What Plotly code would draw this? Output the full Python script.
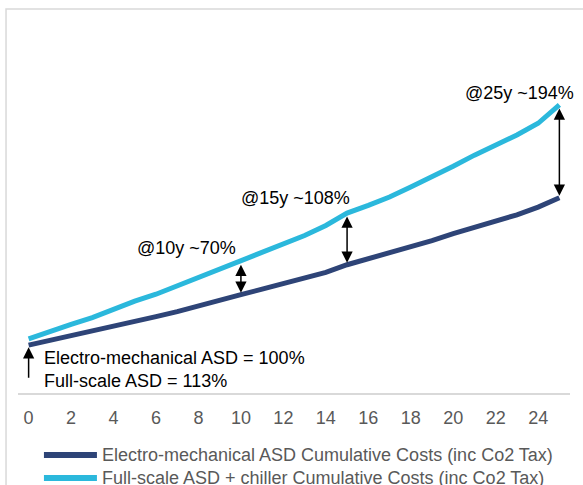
import plotly.graph_objects as go

# Years of operation
years = list(range(0, 26))

# Cumulative costs relative to the electro-mechanical ASD at year 0 (=100%)
electro_mech = [100, 109.8, 118.9, 128, 139.5, 150, 159.5, 170, 181, 193,
                205.5, 217, 228.5, 240, 252, 268, 280, 292, 306, 318.5,
                333, 346, 359, 372.4, 388.5, 408]
full_scale = [113, 129.4, 143.4, 157.4, 175, 192, 206.4, 224, 241.5, 258.5,
              275.5, 294, 311.5, 329, 350, 376, 392, 409.5, 430.5, 451.5,
              474, 497, 518, 539, 563.6, 602]

series_names = ["Electro-mechanical ASD Cumulative Costs (inc Co2 Tax)",
                "Full-scale ASD + chiller Cumulative Costs (inc Co2 Tax)"]
series_colors = ["#2E4477", "#2BB8DC"]

# Years at which the cost gap is called out
gap_years = [10, 15, 25]
x_ticks = list(range(0, 25, 2))

FONT = "Arial, Liberation Sans, sans-serif"

fig = go.Figure()
for name, vals, col in zip(series_names, [electro_mech, full_scale], series_colors):
    fig.add_trace(go.Scatter(x=years, y=vals, mode="lines", name=name,
                             line=dict(color=col, width=5), showlegend=False))

annotations = []
# Double-headed arrows and gap labels
for gy in gap_years:
    i = years.index(gy)
    lo, hi = electro_mech[i], full_scale[i]
    annotations.append(dict(x=gy, y=lo, ax=gy, ay=hi, xref="x", yref="y",
                            axref="x", ayref="y", text="", showarrow=True,
                            arrowhead=2, startarrowhead=2, arrowside="end+start",
                            arrowsize=1.5, startarrowsize=1.5, arrowwidth=1.5,
                            arrowcolor="black", standoff=2, startstandoff=2))
shifts = {10: (-3, 1), 15: (5, 3), 25: (17, 0)}
for gy in gap_years:
    i = years.index(gy)
    gap = full_scale[i] - electro_mech[i]
    xs, ys = shifts[gy]
    annotations.append(dict(x=gy, y=full_scale[i], xref="x", yref="y",
                            text=f"@{gy}y ~{gap:.0f}%", showarrow=False,
                            xanchor="right", yanchor="bottom", xshift=xs, yshift=ys,
                            font=dict(family=FONT, size=18, color="black")))

# Starting point arrow and labels
annotations.append(dict(x=0, y=electro_mech[0], xref="x", yref="y", ax=0, ay=34,
                        text="", showarrow=True, arrowhead=2, arrowsize=1.5,
                        arrowwidth=1.5, arrowcolor="black", standoff=2))
annotations.append(dict(x=0, y=electro_mech[0], xref="x", yref="y",
                        text=(f"Electro-mechanical ASD = {electro_mech[0]:.0f}%<br>"
                              f"Full-scale ASD = {full_scale[0]:.0f}%"),
                        showarrow=False, xanchor="left", yanchor="top", align="left",
                        xshift=13, yshift=-1,
                        font=dict(family=FONT, size=18, color="black")))

# Legend drawn below the axis
shapes = [dict(type="rect", xref="paper", yref="paper", x0=-0.0217, x1=1.2,
               y0=-0.6, y1=1.146, line=dict(color="#D9D9D9", width=1.5),
               fillcolor="rgba(0,0,0,0)", layer="below")]
legend_y = [-0.185, -0.254]
for name, col, ly in zip(series_names, series_colors, legend_y):
    shapes.append(dict(type="line", xref="paper", yref="paper", x0=0.047, x1=0.143,
                       y0=ly, y1=ly, line=dict(color=col, width=6)))
    annotations.append(dict(x=0.149, y=ly, xref="paper", yref="paper", text=name,
                            showarrow=False, xanchor="left", yanchor="middle",
                            font=dict(family=FONT, size=18, color="#595959")))

fig.update_layout(
    width=583, height=485,
    margin=dict(l=18, r=13, t=58, b=92),
    paper_bgcolor="white", plot_bgcolor="white",
    annotations=annotations, shapes=shapes,
    showlegend=False,
    xaxis=dict(range=[-0.5, 25.5], tickvals=x_ticks, ticktext=[str(t) for t in x_ticks],
               showgrid=False, zeroline=False, showline=True, linecolor="#D9D9D9",
               linewidth=1.5, ticks="", ticklabelstandoff=8,
               tickfont=dict(family=FONT, size=18, color="#595959")),
    yaxis=dict(range=[0, 700], visible=False, showgrid=False, zeroline=False),
)

fig.write_html("out.html")
